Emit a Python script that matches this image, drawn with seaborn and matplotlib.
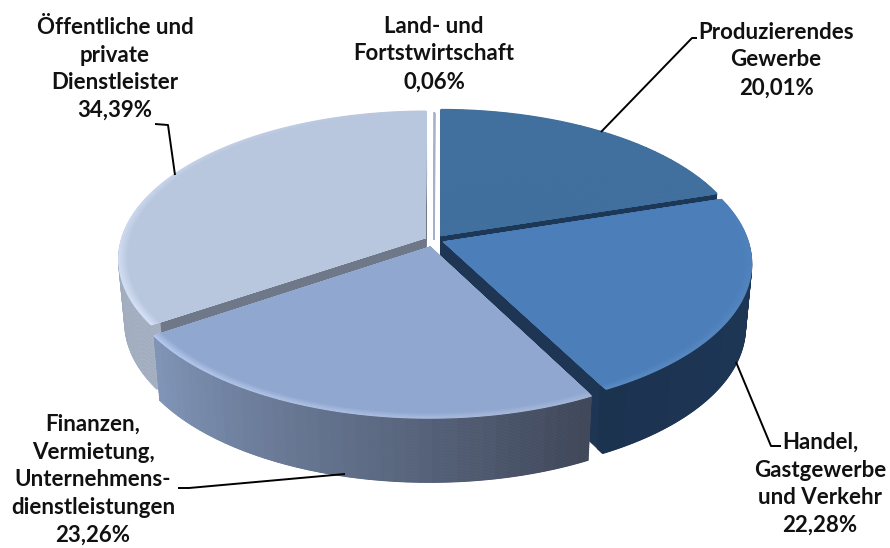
"""Exploded 3D-look pie of Bruttowertschoepfung shares, drawn from stacked pies."""
import numpy as np
import matplotlib
matplotlib.use("Agg")
import matplotlib.pyplot as plt
from matplotlib.path import Path
from matplotlib.transforms import Affine2D, Transform
import seaborn as sns

CATEGORIES = ["Land- und\nFortstwirtschaft", "Produzierendes\nGewerbe",
              "Handel,\nGastgewerbe\nund Verkehr",
              "Finanzen,\nVermietung,\nUnternehmens-\ndienstleistungen",
              "Öffentliche und\nprivate\nDienstleister"]
SHARES = [0.06, 20.01, 22.28, 23.26, 34.39]
SHARE_LABELS = ["0,06%", "20,01%", "22,28%", "23,26%", "34,39%"]

EXPLODE = [0.0, 0.038, 0.035, 0.05, 0.033]
FACE = ["#a3b2c9", "#41709f", "#4c7eb9", "#90a7cf", "#b9c7de"]
WALL = ["#a3b2c9", "#1d3757", "#1e3654", "#6d788c", "#6f7888"]
SIDE = [("#a3b2c9", "#a3b2c9"), ("#1d3757", "#1d3757"), ("#1f3a5c", "#1c3350"),
        ("#3f4759", "#8297ba"), ("#a8b3c6", "#b8c3d6")]
# highlight on the rim, from the start of the slice to its end (clockwise)
RIM = [("#a3b2c9", "#a3b2c9"), ("#41709f", "#41709f"), ("#4c7eb9", "#5a8bc4"),
       ("#a3b6d8", "#b4c7ec"), ("#d3e0f5", "#b9c7de")]
DRAW_ORDER = [0, 4, 1, 2, 3]

# pie plane -> pixel mapping, tilted with a bit of perspective
CX, CY = 434, 240
RX, RY = 304, 145
PERSP = 0.14
DEPTH = 64
SHRINK = 0.02  # the underside of the disc sits a little further away

LABEL_POS = [(434, 54), (776, 60), (820, 484), (93, 480), (115, 69)]
LEADERS = [None,
           [(601, 132), (692, 38), (697, 38)],
           [(736, 362), (771, 446), (781, 446)],
           [(345, 474), (189, 488), (178, 488)],
           [(175, 175), (168, 125), (155, 124)]]


class Tilt(Transform):
    input_dims = output_dims = 2

    def __init__(self, drop=0):
        super().__init__()
        self.drop = drop

    def transform_non_affine(self, xy):
        xy = np.asarray(xy, dtype=float)
        w = 1 + PERSP * xy[:, 1]
        scale = 1 - SHRINK * self.drop / DEPTH
        return np.column_stack([CX + RX * scale * xy[:, 0] / w,
                                CY - RY * xy[:, 1] / w + self.drop])

    def transform_path_non_affine(self, path):
        # flatten the arcs first, curves do not survive a projective map
        big = path.transformed(Affine2D().scale(500))
        poly = big.to_polygons()[0] / 500
        return Path(self.transform_non_affine(poly))


sns.set_theme(style="white")
plt.rcParams["font.family"] = ["Lato", "DejaVu Sans"]

fig = plt.figure(figsize=(8.9, 5.48), dpi=100)
ax = fig.add_axes([0, 0, 1, 1])


def slice_wedges(i, colors, drop=0, radius=1.0, width=None, lw=0.6):
    """Draw slice i of the pie, cut into len(colors) parts, lowered by drop px."""
    before = sum(SHARES[:i])
    after = sum(SHARES[i + 1:])
    n = len(colors)
    parts = [before] + [SHARES[i] / n] * n + [after]
    mid = np.deg2rad(90 - 3.6 * (before + SHARES[i] / 2))
    center = (EXPLODE[i] * np.cos(mid), EXPLODE[i] * np.sin(mid))
    wedges, _ = ax.pie(parts, colors=["white"] + list(colors) + ["white"],
                       center=center, radius=radius, startangle=90,
                       counterclock=False, labeldistance=None,
                       wedgeprops={"width": width, "linewidth": lw})
    wedges[0].remove()
    wedges[-1].remove()
    tilt = Tilt(drop) + ax.transData
    for w in wedges[1:-1]:
        w.set_edgecolor(w.get_facecolor())
        w.set_transform(tilt)


for i in DRAW_ORDER:
    if i == 0:
        slice_wedges(i, [FACE[i]], lw=1.2)
        continue
    side = sns.blend_palette(SIDE[i], 40)
    for drop in np.arange(DEPTH, 0, -1.5):
        slice_wedges(i, [WALL[i]], drop=drop)
        slice_wedges(i, side, drop=drop, width=0.03, lw=1.0)
    # soft highlight along the outer rim
    rim = np.array(sns.blend_palette(RIM[i], 30))
    face = np.array(matplotlib.colors.to_rgb(FACE[i]))
    for radius, t in zip(np.linspace(1.0, 0.972, 5), np.linspace(0, 1, 5)):
        slice_wedges(i, rim * (1 - t) + face * t, radius=radius, lw=0.8)

ax.set_aspect("auto")
ax.set(xlim=(0, 890), ylim=(548, 0))
ax.axis("off")

for cat, share, pos, leader in zip(CATEGORIES, SHARE_LABELS, LABEL_POS, LEADERS):
    ax.text(pos[0], pos[1], f"{cat}\n{share}", ha="center", va="center",
            fontsize=16, fontweight="bold", color="#111111", linespacing=1.4)
    if leader:
        xs, ys = zip(*leader)
        ax.plot(xs, ys, color="black", lw=1.4, solid_capstyle="butt")

fig.savefig("out.png", dpi=100)
plt.close(fig)
